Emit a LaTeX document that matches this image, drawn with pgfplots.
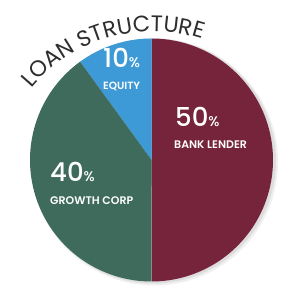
\documentclass[border=0pt]{standalone}
\usepackage{pgfplots}
\pgfplotsset{compat=1.18}
\usepackage{fontspec}
\setmainfont{Poppins}
\newfontfamily\pmed{Poppins}[UprightFont=* Medium, BoldFont=* SemiBold]
\usetikzlibrary{decorations.text}
\definecolor{bank}{HTML}{76243C}
\definecolor{growth}{HTML}{3F6B5C}
\definecolor{equity}{HTML}{3D9AD6}
\definecolor{titlec}{HTML}{2E2E2E}
% slice shares (%)
\def\vbank{50}
\def\vgrowth{40}
\def\vequity{10}
\begin{document}
\begin{tikzpicture}[x=1pt,y=1pt]
\useasboundingbox (0,0) rectangle (286,286);
\pgfmathsetmacro{\aA}{90}
\pgfmathsetmacro{\aB}{90-3.6*\vbank}
\pgfmathsetmacro{\aC}{90+3.6*\vequity}
\pgfmathsetmacro{\aD}{\aC+3.6*\vgrowth}
\fill[black, opacity=0.06] (154.5,124) circle (123.5);
\fill[black, opacity=0.08] (153.5,125) circle (122.5);
\begin{axis}[at={(151.5pt,126pt)}, anchor=origin, scale only axis, width=243pt, height=243pt,
  xmin=-1, xmax=1, ymin=-1, ymax=1, hide axis, clip=false, xtick=\empty, ytick=\empty]
\addplot[fill=bank, draw=none, domain=\aA:\aB, samples=120] ({cos(x)},{sin(x)}) -- (axis cs:0,0) -- cycle;
\addplot[fill=equity, draw=none, domain=\aA:\aC, samples=30] ({cos(x)},{sin(x)}) -- (axis cs:0,0) -- cycle;
\addplot[fill=growth, draw=none, domain=\aC:\aD, samples=100] ({cos(x)},{sin(x)}) -- (axis cs:0,0) -- cycle;
\end{axis}
\path[decorate, decoration={text along path, text align=center, text color=titlec,
  text={|\fontsize{22.5}{22.5}\selectfont|LOAN STRUCTURE}}]
  (153.3,95.6) ++(147:159) arc (147:65:159);
\node[anchor=base west, inner sep=0, text=white] at (103,218) {\pmed\fontsize{26}{26}\selectfont 10\fontsize{14}{14}\selectfont\%};
\node[anchor=base west, inner sep=0, text=white] at (103,196) {\pmed\fontsize{10.5}{10.5}\selectfont\bfseries EQUITY};
\node[anchor=base west, inner sep=0, text=white] at (175,159) {\pmed\fontsize{26}{26}\selectfont 50\fontsize{14}{14}\selectfont\%};
\node[anchor=base west, inner sep=0, text=white] at (174,137) {\pmed\fontsize{11}{11}\selectfont\bfseries BANK LENDER};
\node[anchor=base west, inner sep=0, text=white] at (50,104) {\pmed\fontsize{26}{26}\selectfont 40\fontsize{14}{14}\selectfont\%};
\node[anchor=base west, inner sep=0, text=white] at (50,81) {\pmed\fontsize{11}{11}\selectfont\bfseries GROWTH CORP};
\end{tikzpicture}
\end{document}
